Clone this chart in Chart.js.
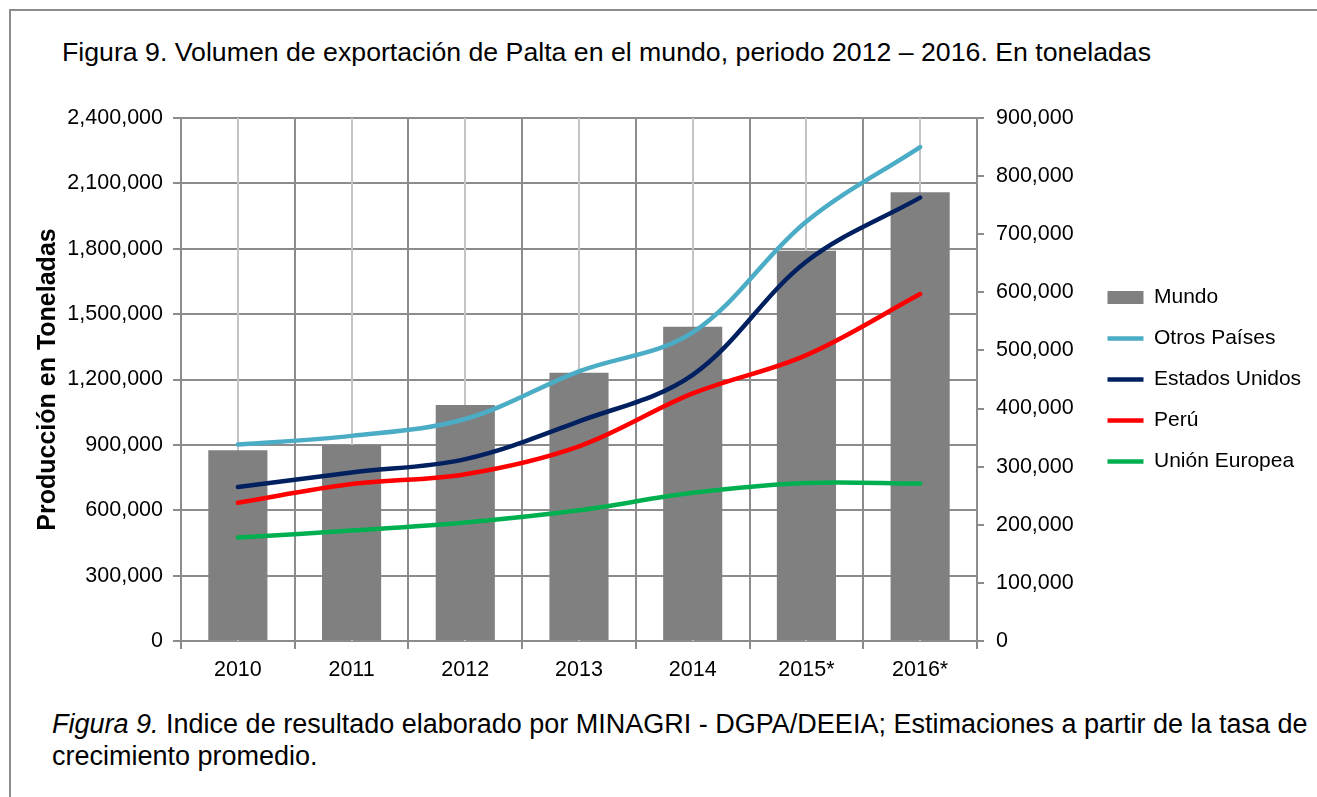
<!DOCTYPE html>
<html>
<head>
<meta charset="utf-8">
<script src="https://cdn.jsdelivr.net/npm/chart.js@4"></script>
<style>
    html, body { margin: 0; padding: 0; background: #fff; overflow: hidden; }
    body { width: 1317px; height: 797px; position: relative; font-family: 'Liberation Sans', Arial, sans-serif; color: #000; }
    #frame { position: absolute; left: 9px; top: 9px; right: 0; bottom: 0; border-left: 2px solid #8c8c8c; border-top: 2px solid #8c8c8c; }
    #title { position: absolute; left: 62px; top: 37px; font-size: 26.7px; line-height: 30px; white-space: nowrap; }
    #caption { position: absolute; left: 52px; top: 708px; font-size: 27px; line-height: 32px; white-space: nowrap; }
    #chartBox { position: absolute; left: 0; top: 90px; width: 1317px; height: 610px; }
</style>
</head>
<body>
<div id="frame"></div>
<div id="title">Figura 9. Volumen de exportación de Palta en el mundo, periodo 2012 – 2016. En toneladas</div>
<div id="chartBox"><canvas id="chart"></canvas></div>
<div id="caption"><i>Figura 9.</i> Indice de resultado elaborado por MINAGRI - DGPA/DEEIA; Estimaciones a partir de la tasa de<br>crecimiento promedio.</div>
<script>
// Datos
var years = ['2010', '2011', '2012', '2013', '2014', '2015*', '2016*']
var mundo = [875000, 899000, 1083000, 1231000, 1442000, 1791000, 2059000]
var otrosPaises = [338000, 353000, 382000, 464000, 531000, 722000, 850000]
var estadosUnidos = [265000, 290000, 313000, 378000, 458000, 653000, 763000]
var peru = [238000, 270000, 287000, 335000, 426000, 492000, 597000]
var unionEuropea = [178000, 190000, 204000, 225000, 255000, 272000, 271000]

Chart.defaults.font.family = "'Liberation Sans', Arial, sans-serif"
Chart.defaults.color = '#000'

let tickFont = { size: 21.5 }
let gridGray = '#8c8c8c'

function fmt(v) {
    return Number(v).toLocaleString('en-US')
}

function lineSet(label, data, color) {
    return {
        type: 'line',
        label: label,
        data: data,
        yAxisID: 'y2',
        borderColor: color,
        backgroundColor: color,
        borderWidth: 4.5,
        borderCapStyle: 'round',
        pointRadius: 0,
        tension: 0.35,
        order: 0
    }
}

// lineas claras en el centro de cada categoria
let centerLines = {
    id: 'centerLines',
    beforeDatasetsDraw(chart) {
        let x = chart.scales.x
        let area = chart.chartArea
        let ctx = chart.ctx
        ctx.save()
        ctx.strokeStyle = '#c4c4c4'
        ctx.lineWidth = 2
        years.forEach((y, i) => {
            let px = Math.round(x.getPixelForValue(i))
            ctx.beginPath()
            ctx.moveTo(px, area.top)
            ctx.lineTo(px, area.bottom)
            ctx.stroke()
        })
        ctx.restore()
    }
}

new Chart(document.getElementById('chart'), {
    data: {
        labels: years,
        datasets: [
            {
                type: 'bar',
                label: 'Mundo',
                data: mundo,
                yAxisID: 'y',
                backgroundColor: '#808080',
                barPercentage: 0.52,
                categoryPercentage: 1,
                order: 1
            },
            lineSet('Otros Países', otrosPaises, '#4bacc6'),
            lineSet('Estados Unidos', estadosUnidos, '#002060'),
            lineSet('Perú', peru, '#ff0000'),
            lineSet('Unión Europea', unionEuropea, '#00b050')
        ]
    },
    options: {
        responsive: true,
        maintainAspectRatio: false,
        animation: false,
        layout: { padding: { top: 28, left: 0, right: 12, bottom: 19 } },
        plugins: {
            tooltip: { enabled: false },
            legend: {
                position: 'right',
                fullSize: false,
                labels: {
                    font: { size: 21 },
                    color: '#000',
                    usePointStyle: true,
                    pointStyleWidth: 36,
                    boxHeight: 13,
                    padding: 20,
                    generateLabels(chart) {
                        let items = Chart.defaults.plugins.legend.labels.generateLabels(chart)
                        items.sort((a, b) => a.datasetIndex - b.datasetIndex)
                        items.forEach((item) => {
                            item.pointStyle = item.datasetIndex == 0 ? 'rect' : 'line'
                        })
                        return items
                    }
                }
            }
        },
        scales: {
            x: {
                offset: true,
                grid: { offset: true, color: gridGray, lineWidth: 2, tickLength: 8 },
                border: { color: gridGray, width: 2 },
                ticks: { font: tickFont, color: '#000', padding: 8 },
                afterFit(scale) { scale.height = 40 }
            },
            y: {
                position: 'left',
                min: 0,
                max: 2400000,
                ticks: { stepSize: 300000, font: tickFont, color: '#000', padding: 10, callback: fmt },
                grid: { color: gridGray, lineWidth: 2, tickLength: 8 },
                border: { color: gridGray, width: 2 },
                title: {
                    display: true,
                    text: 'Producción en Toneladas',
                    font: { size: 25, weight: 'bold' },
                    color: '#000',
                    padding: { top: 33, bottom: 0 }
                },
                afterFit(scale) { scale.width = 181 }
            },
            y2: {
                position: 'right',
                min: 0,
                max: 900000,
                ticks: { stepSize: 100000, font: tickFont, color: '#000', padding: 12, callback: fmt },
                grid: { drawOnChartArea: false, color: gridGray, lineWidth: 2, tickLength: 7 },
                border: { color: gridGray, width: 2 },
                afterFit(scale) { scale.width = 110.5 }
            }
        }
    },
    plugins: [centerLines]
})
</script>
</body>
</html>
